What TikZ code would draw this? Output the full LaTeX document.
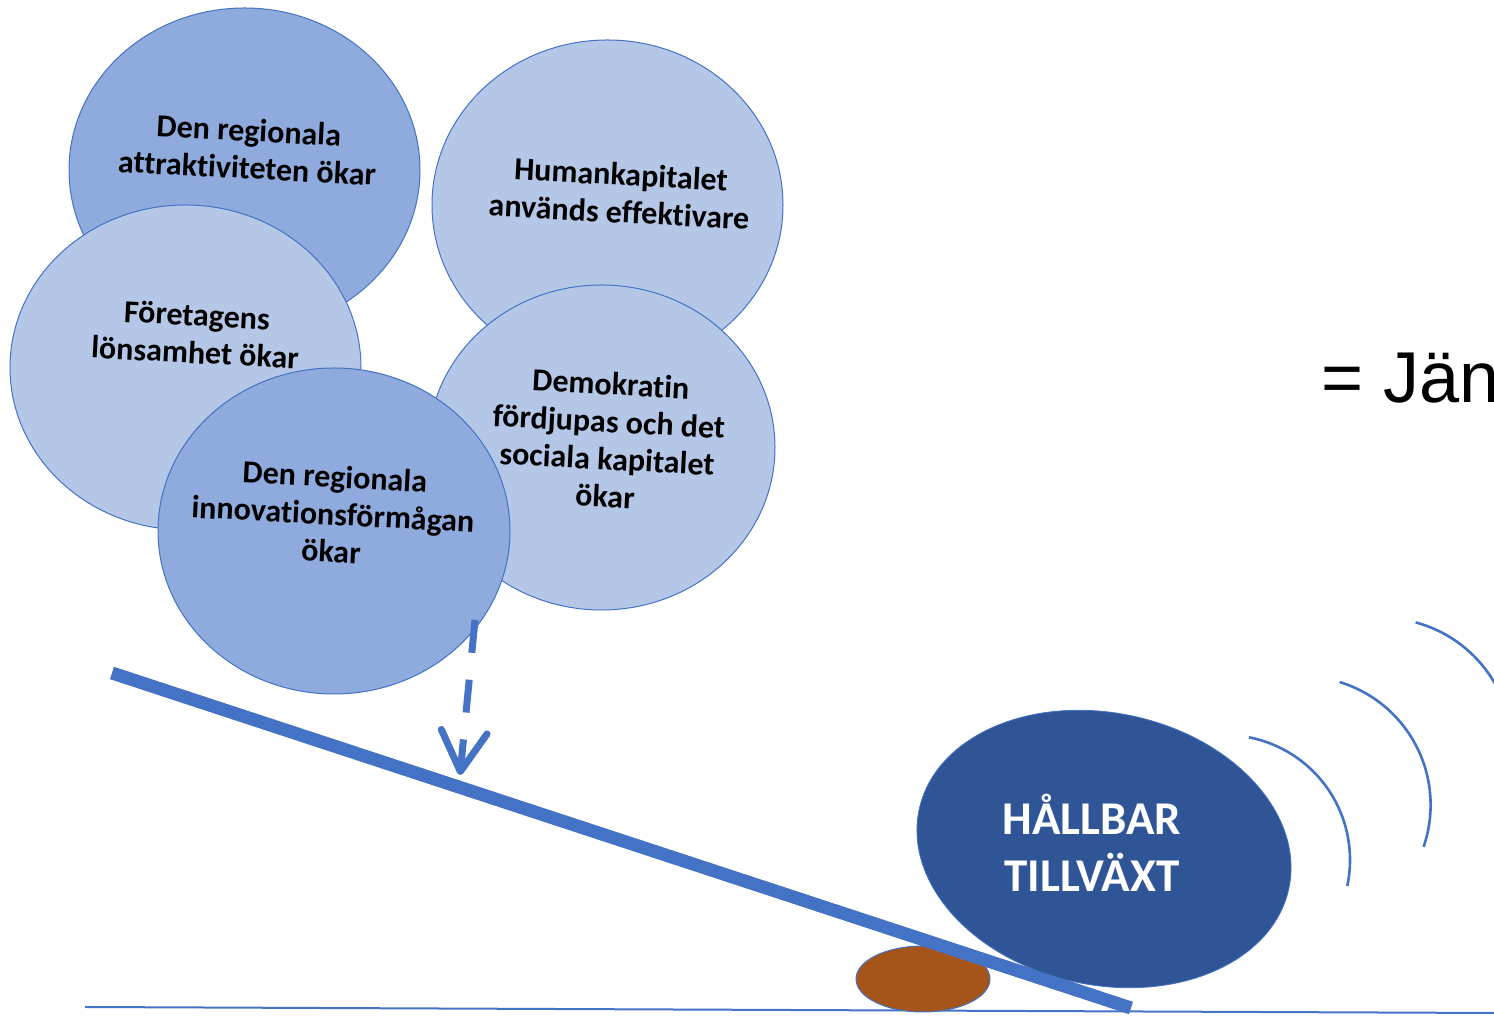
\documentclass[tikz,border=0pt]{standalone}
\usepackage{fontspec}
\setmainfont{Carlito}[Ligatures=NoCommon]
\newfontfamily\arialf{Liberation Sans}
\usetikzlibrary{shapes.geometric,arrows.meta}
\definecolor{darkc}{HTML}{8FAADC}
\definecolor{lightc}{HTML}{B4C7E7}
\definecolor{edgec}{HTML}{4472C4}
\definecolor{bigc}{HTML}{2F5597}
\definecolor{brownc}{HTML}{A5541A}
\tikzset{
  bubble/.style={ellipse, draw=edgec, line width=1pt, inner sep=0pt},
  bubbletext/.style={font=\bfseries\fontsize{32}{37.5}\selectfont, align=center, rotate=-3, inner sep=0pt},
  wave/.style={draw=edgec, line width=2.6pt},
}
\begin{document}
\begin{tikzpicture}[x=1pt,y=1pt]
\useasboundingbox (0,0) rectangle (1494,1016);
\clip (0,0) rectangle (1494,1016);
% bubbles
\node[bubble, fill=darkc, minimum width=351pt, minimum height=324pt] (c1) at (244.5,846) {};
\node[bubbletext] (t1) at (248,867) {Den regionala\\attraktiviteten ökar};
\node[bubble, fill=lightc, minimum width=351pt, minimum height=330pt] (c2) at (607.5,811) {};
\node[bubbletext] (t2) at (620,823) {Humankapitalet\\används effektivare};
\node[bubble, fill=lightc, minimum width=351pt, minimum height=325pt] (c3) at (185.5,648.5) {};
\node[bubbletext] (t3) at (196,682) {Företagens\\lönsamhet ökar};
\node[bubble, fill=lightc, minimum width=347pt, minimum height=325pt] (c4) at (601.5,568.5) {};
\node[bubbletext] (t4) at (608,576) {Demokratin\\fördjupas och det\\sociala kapitalet\\ökar};
\node[bubble, fill=darkc, minimum width=352pt, minimum height=326pt] (c5) at (334,485) {};
\node[bubbletext] (t5) at (333,502) {Den regionala\\innovationsförmågan\\ökar};
% dashed arrow
\coordinate (as) at (475,396);
\coordinate (ae) at (460,241);
\draw[edgec, line width=7pt, dash pattern=on 33pt off 27pt,
  -{Straight Barb[length=40pt,width=46pt,line width=7pt,round]}] (as) -- (ae);
% ground
\coordinate (g1) at (85,9);
\coordinate (g2) at (1494,3);
\draw[edgec, line width=2pt] (g1) -- (g2);
% fulcrum
\node[ellipse, draw=edgec, line width=1pt, fill=brownc, minimum width=134pt, minimum height=66pt, inner sep=0pt] (f) at (923,37) {};
% plank
\coordinate (p1) at (112,343);
\coordinate (p2) at (1131,8);
\draw[edgec, line width=13pt] (p1) -- (p2);
% big ball
\node[ellipse, fill=bigc, draw=edgec, line width=0.8pt, minimum width=378pt, minimum height=272pt, inner sep=0pt, rotate=-12] (ball) at (1104,167) {};
\node[text=white, font=\bfseries\fontsize{47}{57}\selectfont, align=center, inner sep=0pt] (bt) at (1092,173) {HÅLLBAR\\TILLVÄXT};
% waves
\draw[wave] (1225,156) ++(79:125pt) arc[start angle=79, end angle=-12, radius=125pt];
\draw[wave] (1302,211) ++(73:128.6pt) arc[start angle=73, end angle=-19, radius=128.6pt];
\draw[wave] (1382,268) ++(75:130pt) arc[start angle=75, end angle=-20, radius=130pt];
% side text (cut off at the right edge, as in the reference)
\node[anchor=base west, inner sep=0pt, font=\arialf\fontsize{72}{80}\selectfont] (eq) at (1321,613) {= Jän};
\end{tikzpicture}
\end{document}
